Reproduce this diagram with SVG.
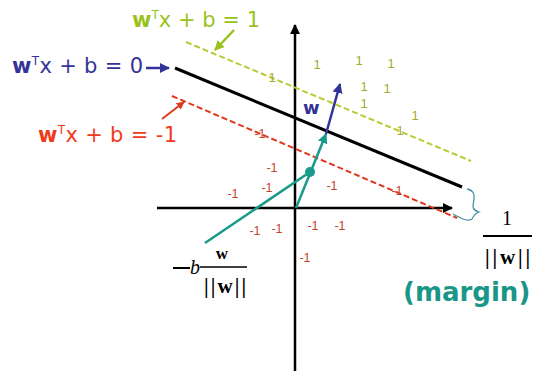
<svg xmlns="http://www.w3.org/2000/svg" width="533" height="371" viewBox="0 0 533 371">
<defs>
<style>
.lbl{font-family:"DejaVu Sans",Verdana,sans-serif;font-size:21px}
.one{font-family:"Liberation Sans",Arial,sans-serif;font-size:13px;fill:#a3aa2c;text-anchor:middle}
.neg{font-family:"Liberation Sans",Arial,sans-serif;font-size:12.5px;fill:#c0452c;text-anchor:middle}
.ser{font-family:"Liberation Serif","Times New Roman",serif;fill:#000}
</style>
<marker id="ahBlack" viewBox="0 0 10 10" refX="9" refY="5" markerWidth="4" markerHeight="4" orient="auto" markerUnits="strokeWidth"><path d="M0,0 L10,5 L0,10 Z" fill="#000"/></marker>
<marker id="ahBlue" viewBox="0 0 10 10" refX="9" refY="5" markerWidth="4" markerHeight="4" orient="auto" markerUnits="strokeWidth"><path d="M0,0 L10,5 L0,10 Z" fill="#333399"/></marker>
<marker id="ahTeal" viewBox="0 0 10 10" refX="9" refY="5" markerWidth="4" markerHeight="4" orient="auto" markerUnits="strokeWidth"><path d="M0,0 L10,5 L0,10 Z" fill="#1a9a8a"/></marker>
<marker id="ahGreen" viewBox="0 0 10 10" refX="9" refY="5" markerWidth="4" markerHeight="4" orient="auto" markerUnits="strokeWidth"><path d="M0,0 L10,5 L0,10 Z" fill="#99c31c"/></marker>
<marker id="ahRed" viewBox="0 0 10 10" refX="9" refY="5" markerWidth="4" markerHeight="4" orient="auto" markerUnits="strokeWidth"><path d="M0,0 L10,5 L0,10 Z" fill="#e03a1e"/></marker>
</defs>
<rect width="533" height="371" fill="#fff"/>

<g id="connectors">
  <line x1="295" y1="371" x2="295" y2="25" stroke="#000" stroke-width="2.5" marker-end="url(#ahBlack)"/>
  <line x1="157" y1="208" x2="452" y2="208" stroke="#000" stroke-width="2.5" marker-end="url(#ahBlack)"/>
  <line x1="186" y1="42" x2="471" y2="161" stroke="#b5cc33" stroke-width="2" stroke-dasharray="6,3"/>
  <line x1="175" y1="68" x2="462" y2="187" stroke="#000" stroke-width="3"/>
  <line x1="172" y1="96" x2="457" y2="218" stroke="#e03a1e" stroke-width="2" stroke-dasharray="6,3"/>
  <line x1="205" y1="243" x2="310" y2="172" stroke="#1a9a8a" stroke-width="2.5"/>
  <line x1="296" y1="208" x2="326" y2="134" stroke="#1a9a8a" stroke-width="2.5" marker-end="url(#ahTeal)"/>
  <circle cx="310" cy="172" r="5" fill="#1a9a8a"/>
  <line x1="326" y1="134" x2="340" y2="84" stroke="#333399" stroke-width="2.5" marker-end="url(#ahBlue)"/>
  <line x1="234" y1="30" x2="215" y2="50" stroke="#99c31c" stroke-width="2.5" marker-end="url(#ahGreen)"/>
  <line x1="146" y1="68" x2="169" y2="68" stroke="#333399" stroke-width="2.5" marker-end="url(#ahBlue)"/>
  <line x1="162" y1="119" x2="184" y2="102" stroke="#e03a1e" stroke-width="2" marker-end="url(#ahRed)"/>
  <path d="M467,189 C473,190 475,194 474,199 L473,206 C473,210 476,211 479,212 C476,213 474,215 472,219 C468,222 462,219 453,214" fill="none" stroke="#4a90a4" stroke-width="1.3"/>
</g>

<g id="label-plus1">
  <text class="lbl" x="132" y="27" fill="#99c31c" textLength="128" lengthAdjust="spacing"><tspan font-weight="bold">w</tspan><tspan font-size="12" dy="-8">T</tspan><tspan dy="8">x + b = 1</tspan></text>
</g>
<g id="label-zero">
  <text class="lbl" x="12" y="73" fill="#333399" textLength="131" lengthAdjust="spacing"><tspan font-weight="bold">w</tspan><tspan font-size="12" dy="-8">T</tspan><tspan dy="8">x + b = 0</tspan></text>
</g>
<g id="label-minus1">
  <text class="lbl" x="38" y="142" fill="#f03a1a" textLength="139" lengthAdjust="spacing"><tspan font-weight="bold">w</tspan><tspan font-size="12" dy="-8">T</tspan><tspan dy="8">x + b = -1</tspan></text>
</g>
<g id="label-w">
  <text x="303" y="114" font-family="DejaVu Sans,Verdana,sans-serif" font-size="18" font-weight="bold" fill="#333399">w</text>
</g>

<g id="points-positive">
  <text class="one" x="272" y="82">1</text>
  <text class="one" x="317" y="69">1</text>
  <text class="one" x="359" y="65">1</text>
  <text class="one" x="391" y="68">1</text>
  <text class="one" x="364" y="91">1</text>
  <text class="one" x="387" y="93">1</text>
  <text class="one" x="364" y="108">1</text>
  <text class="one" x="415" y="120">1</text>
  <text class="one" x="400" y="135">1</text>
</g>
<g id="points-negative">
  <text class="neg" x="260" y="138">-1</text>
  <text class="neg" x="272" y="172">-1</text>
  <text class="neg" x="267" y="192">-1</text>
  <text class="neg" x="233" y="198">-1</text>
  <text class="neg" x="332" y="190">-1</text>
  <text class="neg" x="397" y="195">-1</text>
  <text class="neg" x="255" y="235">-1</text>
  <text class="neg" x="277" y="233">-1</text>
  <text class="neg" x="313" y="230">-1</text>
  <text class="neg" x="340" y="230">-1</text>
  <text class="neg" x="305" y="262">-1</text>
</g>

<g id="formula-offset">
  <line x1="173" y1="268" x2="190" y2="268" stroke="#000" stroke-width="2"/>
  <text class="ser" x="190" y="274" font-size="20" font-style="italic">b</text>
  <line x1="200" y1="267" x2="247" y2="267" stroke="#000" stroke-width="1.5"/>
  <text class="ser" x="222" y="259" font-size="17" font-weight="bold" text-anchor="middle">w</text>
  <text class="ser" x="204" y="293" font-size="21" font-weight="bold" textLength="42" lengthAdjust="spacing">||w||</text>
</g>

<g id="formula-margin">
  <text class="ser" x="507" y="225" font-size="20" text-anchor="middle">1</text>
  <line x1="483" y1="236" x2="532" y2="236" stroke="#000" stroke-width="1.8"/>
  <text class="ser" x="485" y="264" font-size="21" font-weight="bold" textLength="45" lengthAdjust="spacing">||w||</text>
  <text x="403" y="301" font-family="DejaVu Sans,Verdana,sans-serif" font-size="26" font-weight="bold" fill="#1a9688">(margin)</text>
</g>
</svg>
